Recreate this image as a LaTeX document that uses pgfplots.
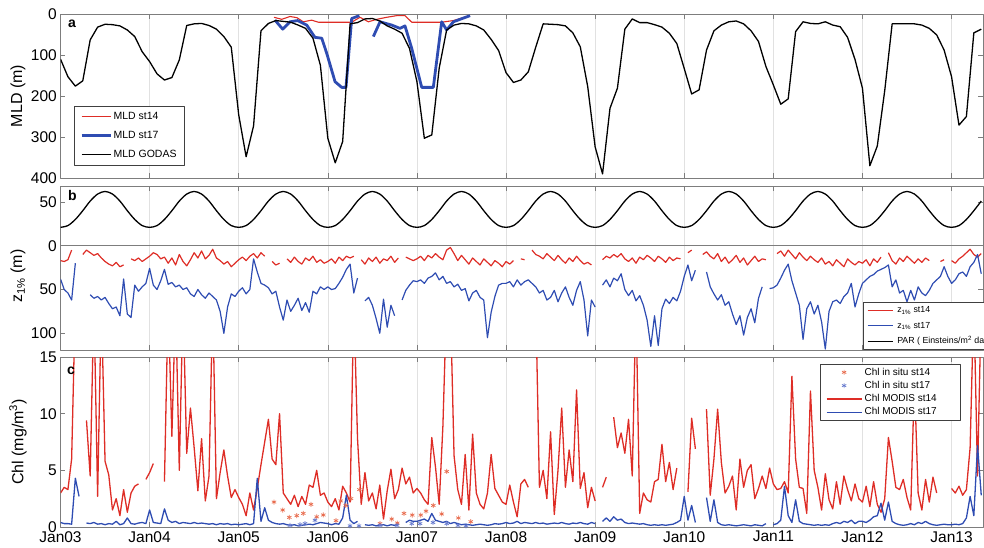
\documentclass[border=0pt]{standalone}
\usepackage{fontspec}
\setmainfont{Liberation Sans}
\usepackage{pgfplots}
\usepackage{pgfplotstable}
\pgfplotsset{compat=1.18}
\usetikzlibrary{plotmarks}
\definecolor{mred}{RGB}{222,45,38}
\definecolor{mblue}{RGB}{46,76,178}
\definecolor{sred}{RGB}{232,108,78}
\definecolor{sblue}{RGB}{100,120,205}
\definecolor{agray}{RGB}{125,125,125}
\definecolor{ggray}{RGB}{225,225,225}

% monthly: GODAS MLD and PAR
\pgfplotstableread{
k mld par
0 110 21
1 153 23
2 176 30
3 163 40
4 63 51
5 32 59
6 25 62
7 26 59
8 29 51
9 39 40
10 55 30
11 92 23
12 116 21
13 146 23
14 161 30
15 155 40
16 112 51
17 28 59
18 24 62
19 23 59
20 28 51
21 37 40
22 55 30
23 81 23
24 246 21
25 348 23
26 273 30
27 41 40
28 23 51
29 16 59
30 18 62
31 20 59
32 27 51
33 35 40
34 59 30
35 125 23
36 303 21
37 363 23
38 311 30
39 24 40
40 21 51
41 12 59
42 11 62
43 17 59
44 29 51
45 37 40
46 47 30
47 84 23
48 165 21
49 303 23
50 295 30
51 132 40
52 39 51
53 27 59
54 23 62
55 24 59
56 29 51
57 39 40
58 62 30
59 89 23
60 143 21
61 167 23
62 161 30
63 141 40
64 81 51
65 24 59
66 25 62
67 26 59
68 29 51
69 46 40
70 80 30
71 177 23
72 324 21
73 390 23
74 230 30
75 181 40
76 37 51
77 12 59
78 21 62
79 21 59
80 26 51
81 32 40
82 47 30
83 72 23
84 133 21
85 195 23
86 185 30
87 88 40
88 41 51
89 27 59
90 19 62
91 17 59
92 24 51
93 41 40
94 67 30
95 128 23
96 173 21
97 220 23
98 207 30
99 43 40
100 19 51
101 23 59
102 24 62
103 19 59
104 27 51
105 31 40
106 57 30
107 111 23
108 181 21
109 370 23
110 322 30
111 187 40
112 24 51
113 24 59
114 24 62
115 24 59
116 27 51
117 35 40
118 51 30
119 88 23
120 153 21
121 271 23
122 250 30
123 46 40
124 37 51
}\monthly

% half-monthly: z1% st14, z1% st17, Chl MODIS st14, Chl MODIS st17
\pgfplotstableread{
i zr zb cr cb
0 17 38 3.0 0.4
1 18 50 3.5 0.3
2 16 54 3.3 0.3
3 5 62 6.0 0.25
4 nan 20 20 4.3
5 nan nan nan 2.7
6 10 nan nan nan
7 5 nan 9.4 0.35
8 8 56 4.5 0.3
9 11 60 20 0.4
10 9 58 2.7 0.25
11 14 62 20 0.3
12 18 59 5.8 0.2
13 21 66 4.6 0.3
14 23 72 1.5 0.25
15 19 70 2.5 0.5
16 24 80 1.0 0.2
17 22 38 3.3 0.3
18 nan 78 1.3 0.8
19 15 82 3.0 0.3
20 17 45 3.6 0.25
21 14 52 3.8 0.35
22 18 47 nan 0.4
23 15 43 4.2 0.3
24 12 26 4.8 1.5
25 8 45 5.6 0.4
26 10 50 nan 0.35
27 15 40 nan 0.3
28 13 27 4.0 1.6
29 20 44 20 0.6
30 14 42 8.0 0.4
31 22 47 20 0.5
32 10 45 5.0 0.3
33 18 50 20 0.4
34 23 48 6.5 0.35
35 16 55 10.5 0.3
36 8 58 7.0 0.4
37 14 50 3.2 0.3
38 6 56 7.8 0.35
39 15 60 2.3 0.3
40 11 54 4.5 0.25
41 4 58 20 0.3
42 14 62 2.5 0.2
43 17 75 4.8 0.3
44 21 100 6.8 0.25
45 18 70 4.5 0.3
46 24 55 2.6 0.2
47 20 58 3.3 0.25
48 16 52 2.6 0.2
49 13 48 2.0 0.25
50 17 55 1.0 0.3
51 12 50 3.0 0.2
52 9 15 1.5 0.3
53 14 30 3.4 4.3
54 8 43 5.5 0.5
55 12 45 7.5 1.7
56 nan 48 9.5 0.6
57 18 55 6.0 0.4
58 22 52 5.5 0.3
59 20 70 10.0 0.25
60 nan 85 3.0 0.3
61 15 62 2.5 0.2
62 19 75 2.0 0.15
63 13 68 2.8 0.2
64 18 60 1.8 0.1
65 21 74 2.7 0.15
66 14 65 2.0 0.2
67 17 76 3.7 0.25
68 12 52 3.5 0.2
69 19 55 5.0 0.3
70 16 47 2.8 0.4
71 20 50 3.0 0.35
72 18 47 2.2 0.3
73 15 50 1.8 0.2
74 20 49 2.5 0.3
75 13 43 1.5 0.25
76 17 36 3.6 0.8
77 12 27 3.0 2.8
78 14 21 2.2 0.6
79 12 54 20 0.3
80 nan 37 7.8 0.5
81 16 nan 2.0 nan
82 21 63 4.8 0.2
83 14 59 2.3 0.15
84 18 68 3.0 0.2
85 13 83 1.6 0.1
86 20 100 3.7 0.15
87 15 61 0.7 0.2
88 17 93 3.2 0.1
89 12 68 5.1 0.2
90 19 80 2.5 0.15
91 14 nan 3.3 0.3
92 nan 62 5.2 nan
93 13 51 3.8 0.4
94 15 45 4.4 0.6
95 17 40 3.0 0.5
96 15 41 3.4 0.5
97 12 39 3.0 0.6
98 17 43 2.4 0.7
99 11 37 2.0 0.5
100 14 35 7.9 1.2
101 9 31 5.3 0.6
102 13 39 2.0 0.5
103 16 35 8.9 0.4
104 5 43 20 0.5
105 2 41 20 0.3
106 9 47 6.3 0.4
107 17 44 3.3 0.3
108 11 51 2.0 0.2
109 16 49 6.4 0.25
110 21 63 1.5 0.2
111 14 54 8.2 0.15
112 18 51 3.0 0.2
113 22 59 2.0 0.25
114 15 62 1.6 0.2
115 19 105 3.0 0.15
116 23 76 6.4 0.2
117 17 58 3.4 0.3
118 20 45 2.8 0.25
119 24 43 2.2 0.3
120 18 43 2.0 0.4
121 21 41 3.7 0.3
122 17 47 2.2 0.35
123 nan 39 0.9 0.5
124 15 45 3.8 0.3
125 16 41 4.2 0.4
126 nan 39 3.5 0.35
127 5 43 nan 0.3
128 10 47 20 0.4
129 12 54 3.5 0.3
130 15 51 5.0 0.35
131 9 62 2.5 0.25
132 13 59 8.4 0.3
133 17 51 1.1 0.35
134 11 64 5.0 0.3
135 16 54 10.5 0.4
136 20 47 3.5 0.3
137 14 59 6.8 0.25
138 18 68 4.0 0.35
139 12 51 12.1 0.3
140 17 41 3.4 0.4
141 21 62 4.8 0.3
142 19 103 1.7 0.25
143 22 62 3.5 0.4
144 nan 70 2.3 0.3
145 nan nan nan nan
146 16 45 3.5 0.5
147 12 39 4.4 0.8
148 14 47 nan 0.5
149 10 37 9.7 0.9
150 13 40 7.0 0.6
151 9 32 8.3 0.7
152 15 50 6.5 0.4
153 18 57 9.5 0.3
154 14 51 4.5 0.35
155 20 63 20 0.3
156 13 57 1.2 0.25
157 16 68 3.0 0.3
158 11 85 2.4 0.2
159 14 115 2.2 0.15
160 18 80 4.0 0.2
161 12 114 4.2 0.15
162 15 72 7.3 0.2
163 19 61 4.0 0.15
164 13 66 5.7 0.2
165 17 59 3.3 0.25
166 14 63 5.2 0.4
167 15 52 nan 0.6
168 nan 35 nan 2.7
169 8 22 3.1 0.6
170 5 40 9.6 1.9
171 nan 28 6.9 0.4
172 nan nan nan nan
173 10 nan nan nan
174 7 30 10.4 2.6
175 12 47 2.8 0.5
176 15 55 6.0 2.4
177 9 62 10.4 0.4
178 18 56 5.7 0.2
179 13 68 3.0 0.15
180 20 64 3.6 0.2
181 16 78 4.5 0.15
182 11 90 1.5 0.1
183 19 80 6.0 0.15
184 14 102 3.5 0.2
185 22 82 5.0 0.15
186 17 72 5.5 0.1
187 12 88 2.5 0.2
188 18 60 3.4 0.15
189 15 47 4.5 0.1
190 16 nan 3.4 0.3
191 nan 49 5.2 nan
192 nan 48 3.8 0.2
193 9 45 3.3 0.3
194 6 37 3.4 0.6
195 12 28 4.0 3.6
196 5 21 3.0 1.0
197 10 40 13.3 0.4
198 15 54 6.0 2.4
199 8 68 3.5 0.5
200 13 107 3.4 0.3
201 17 72 1.2 0.25
202 12 64 12.0 0.2
203 16 78 5.0 0.15
204 19 68 3.5 0.2
205 14 87 1.5 0.15
206 21 118 4.7 0.2
207 18 75 2.4 0.15
208 23 64 1.6 0.3
209 16 62 4.0 0.4
210 20 66 2.0 0.3
211 24 58 4.5 0.5
212 15 54 3.3 0.4
213 19 43 2.3 0.6
214 22 70 3.8 0.3
215 18 55 2.5 0.5
216 20 43 2.2 0.5
217 16 39 3.6 0.4
218 23 35 1.8 0.6
219 15 33 4.0 0.9
220 19 29 2.0 1.0
221 13 27 1.3 2.1
222 nan 25 2.5 0.6
223 8 22 7.9 2.2
224 17 47 5.8 0.5
225 21 39 3.5 0.3
226 14 54 3.3 0.2
227 18 51 4.2 0.15
228 12 64 2.6 0.2
229 16 51 1.5 0.3
230 20 62 13 0.2
231 15 47 3.0 0.4
232 19 54 1.5 0.3
233 14 57 4.2 0.5
234 17 51 2.2 0.3
235 nan 43 4.4 0.2
236 nan 39 3.0 0.15
237 18 35 nan 0.2
238 16 24 3.1 0.25
239 nan 35 nan 0.2
240 17 43 3.4 0.2
241 20 39 3.0 0.25
242 15 32 3.6 0.2
243 12 30 2.8 0.3
244 8 35 3.3 0.8
245 4 24 7.0 2.7
246 10 19 20 1.0
247 13 10 4.5 7.2
248 9 32 20 2.8
}\hm

% MLD st14 and st17 (t in years since Jan 2003)
\pgfplotstableread{
t v
2.396 8
2.483 13
2.576 6
2.654 9
2.725 19
2.819 15
2.893 20
3.268 20
3.361 8
3.455 19
3.549 13
3.661 8
3.773 4
3.866 4
3.942 20
4.278 20
4.409 16
4.596 4
}\mldA
\pgfplotstableread{
t v
2.407 15
2.494 37
2.576 19
2.662 16
2.763 27
2.856 57
2.932 59
2.988 96
3.081 165
3.156 179
3.204 179
3.268 11
3.354 4
3.430 nan
3.511 55
3.586 19
3.717 27
3.810 35
3.866 29
3.942 84
4.054 179
4.184 179
4.278 19
4.334 39
4.409 19
4.596 4
}\mldB

% in situ Chl
\pgfplotstableread{
t v
2.396 2.2
2.494 1.5
2.568 0.85
2.651 1.0
2.725 1.2
2.811 2.0
2.875 0.9
2.949 1.06
3.092 0.56
3.145 2.3
3.201 1.9
3.260 2.5
3.354 3.3
3.586 0.3
3.717 0.7
3.780 0.35
3.855 1.2
3.948 1.05
4.043 1.05
4.102 1.4
4.184 1.9
4.278 1.15
4.334 4.9
4.465 0.8
4.604 0.47
}\starA
\pgfplotstableread{
t v
2.576 0.15
2.688 0.2
2.744 0.3
2.856 0.6
3.249 0.1
3.350 0.1
3.586 0.15
3.777 0.15
3.942 0.3
4.035 0.3
4.180 0.4
4.334 0.3
4.461 0.15
4.550 0.1
}\starB

\pgfplotsset{
  panel/.style={
    scale only axis, width=922.5pt, xmin=0, xmax=10.353,
    axis line style={agray, line width=0.7pt},
    tick style={agray, line width=0.6pt},
    major tick length=5pt, tick align=inside,
    xtick={0,1,...,10}, xmajorgrids,
    grid style={ggray, line width=0.6pt},
    ticklabel style={font=\fontsize{15.5}{17}\selectfont},
    yticklabel style={inner sep=0pt, xshift=-3.5pt},
    xticklabel style={inner sep=0pt, yshift=-4pt},
    /pgf/number format/assume math mode=true,
    every axis y label/.style={at={(axis description cs:-0.046,0.5)}, rotate=90, anchor=center, font=\fontsize{16}{18}\selectfont},
    legend cell align=left,
    unbounded coords=jump,
    line join=round,
  },
  linelegA/.style={legend image code/.code={\draw[##1] (0pt,0pt) -- (29pt,0pt);}},
  linelegB/.style={legend image code/.code={\draw[##1] (0pt,0pt) -- (25.5pt,0pt);}},
  linelegC/.style={legend image code/.code={\draw[mark repeat=2,mark phase=2,##1] plot coordinates {(0pt,0pt) (17.5pt,0pt) (35pt,0pt)};}},
}
\tikzset{letter/.style={font=\bfseries\fontsize{14}{14}\selectfont, anchor=north west, inner sep=0pt}}

\begin{document}
\begin{tikzpicture}
\useasboundingbox (0,0) rectangle (984pt,547pt);

% ---------------- panel a ----------------
\begin{axis}[panel, at={(60.5pt,369pt)}, anchor=south west, height=164pt,
  ymin=0, ymax=400, y dir=reverse, ytick={0,100,200,300,400},
  xticklabel=\empty, ylabel={MLD (m)},
  legend style={at={(axis description cs:0.0146,0.439)}, anchor=north west,
    draw=black!75, line width=0.5pt, inner xsep=6pt, inner ysep=4pt, row sep=6pt,
    font=\fontsize{10.5}{12}\selectfont,
    nodes={inner sep=1.5pt, text height=8pt, text depth=2pt}},
  linelegA,
]
\addplot[mred, line width=1.1pt] table[x=t, y=v] {\mldA};
\addlegendentry{MLD st14\hspace*{9.5pt}}
\addplot[mblue, line width=2.8pt] table[x=t, y=v] {\mldB};
\addlegendentry{MLD st17}
\addplot[black, line width=1.3pt] table[x expr=\thisrow{k}/12, y=mld] {\monthly};
\addlegendentry{MLD GODAS}
\node[letter] at (axis description cs:0.0081,0.963) {a};
\end{axis}

% ---------------- panel b ----------------
\begin{axis}[panel, at={(60.5pt,197pt)}, anchor=south west, height=164pt,
  ymin=-68.2, ymax=119.1, y dir=reverse, ytick={-50,0,50,100}, yticklabels={50,0,50,100},
  xticklabel=\empty, ylabel={z\textsubscript{1\%} (m)},
  ylabel style={at={(axis description cs:-0.046,0.45)}},
  legend style={at={(axis description cs:0.8696,0.2945)}, anchor=north west,
    draw=black!75, line width=0.5pt, inner xsep=4pt, inner ysep=2.5pt, row sep=4pt, column sep=2.5pt,
    font=\fontsize{8.8}{10}\selectfont,
    nodes={inner sep=1pt, text height=7.5pt, text depth=2pt}},
  linelegB,
]
\addplot[mred, line width=1.2pt] table[x expr=\thisrow{i}/24, y=zr] {\hm};
\addlegendentry{z\textsubscript{1\%} st14}
\addplot[mblue, line width=1.2pt] table[x expr=\thisrow{i}/24, y=zb] {\hm};
\addlegendentry{z\textsubscript{1\%} st17}
\addplot[black, line width=1.3pt, smooth] table[x expr=\thisrow{k}/12, y expr=-\thisrow{par}] {\monthly};
\addlegendentry{PAR ( Einsteins/m\textsuperscript{2} day)}
\draw[agray, line width=0.9pt] (axis cs:0,0) -- (axis cs:10.353,0);
\node[letter] at (axis description cs:0.0081,0.976) {b};
\end{axis}

% ---------------- panel c ----------------
\begin{axis}[panel, at={(60.5pt,20pt)}, anchor=south west, height=170pt,
  ymin=0, ymax=15, ytick={0,5,10,15},
  xticklabels={Jan03,Jan04,Jan05,Jan06,Jan07,Jan08,Jan09,Jan10,Jan11,Jan12,Jan13},
  ylabel={Chl (mg/m\textsuperscript{3})},
  legend style={at={(axis description cs:0.8233,0.9588)}, anchor=north west,
    draw=black!75, line width=0.5pt, inner xsep=5.7pt, inner ysep=2.3pt, row sep=1.8pt, column sep=1.3pt,
    font=\fontsize{10}{11}\selectfont,
    nodes={inner sep=1pt, text height=7.5pt, text depth=2pt}},
  linelegC,
]
\addplot[mred, line width=1.3pt, forget plot] table[x expr=\thisrow{i}/24, y=cr] {\hm};
\addplot[mblue, line width=1.3pt, forget plot] table[x expr=\thisrow{i}/24, y=cb] {\hm};
\addplot[only marks, mark=asterisk, mark size=2.5pt, sred, line width=0.7pt, linelegC]
  table[x=t, y=v] {\starA};
\addlegendentry{Chl in situ st14\hspace*{23pt}}
\addplot[only marks, mark=asterisk, mark size=2.5pt, sblue, line width=0.7pt, linelegC]
  table[x=t, y=v] {\starB};
\addlegendentry{Chl in situ st17}
\addlegendimage{mred, line width=1.3pt}
\addlegendentry{Chl MODIS st14}
\addlegendimage{mblue, line width=1.3pt}
\addlegendentry{Chl MODIS st17}
\node[letter] at (axis description cs:0.007,0.941) {c};
\end{axis}
\end{tikzpicture}
\end{document}
